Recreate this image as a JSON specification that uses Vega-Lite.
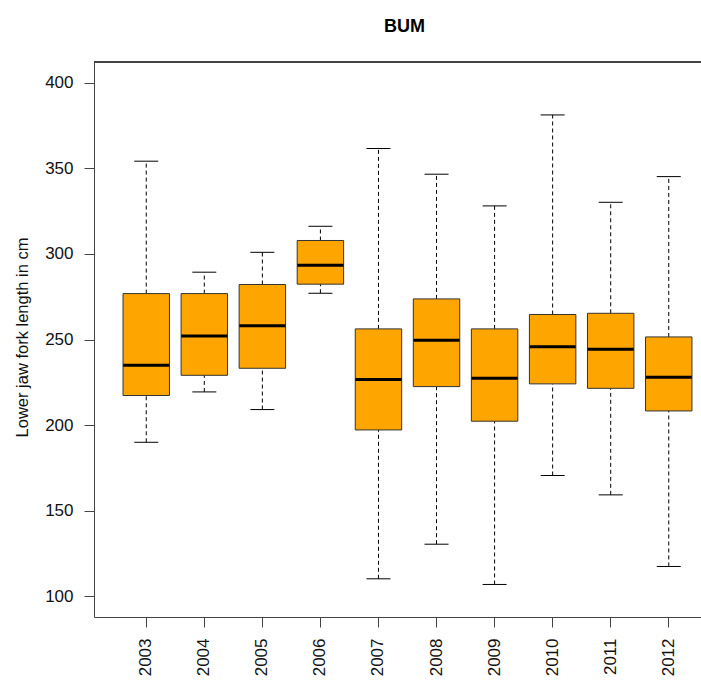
{
  "$schema": "https://vega.github.io/schema/vega-lite/v6.json",
  "autosize": "none",
  "width": 607,
  "height": 555,
  "padding": {"left": 94, "top": 62, "right": 0, "bottom": 64},
  "background": "white",
  "title": {"text": "BUM", "fontSize": 18, "fontWeight": "bold", "font": "Liberation Sans", "color": "#000", "anchor": "middle", "dx": 7, "baseline": "alphabetic", "offset": 12, "frame": "group"},
  "data": {"values": [
    {"year": "2003", "lo": 190.0, "q1": 217.3, "med": 235.0, "q3": 276.8, "hi": 354.1},
    {"year": "2004", "lo": 219.4, "q1": 229.1, "med": 252.1, "q3": 276.8, "hi": 289.3},
    {"year": "2005", "lo": 209.1, "q1": 233.2, "med": 258.1, "q3": 282.1, "hi": 300.9},
    {"year": "2006", "lo": 277.0, "q1": 282.3, "med": 293.4, "q3": 307.8, "hi": 316.1},
    {"year": "2007", "lo": 110.3, "q1": 197.2, "med": 226.6, "q3": 256.2, "hi": 361.5},
    {"year": "2008", "lo": 130.5, "q1": 222.5, "med": 249.6, "q3": 273.7, "hi": 346.5},
    {"year": "2009", "lo": 107.0, "q1": 202.3, "med": 227.4, "q3": 256.2, "hi": 328.0},
    {"year": "2010", "lo": 170.6, "q1": 224.1, "med": 245.7, "q3": 264.6, "hi": 381.1},
    {"year": "2011", "lo": 159.3, "q1": 221.5, "med": 244.3, "q3": 265.3, "hi": 330.1},
    {"year": "2012", "lo": 117.5, "q1": 208.3, "med": 228.0, "q3": 251.5, "hi": 345.1}
  ]},
  "layer": [
    {
      "mark": {"type": "rule", "color": "#000", "strokeWidth": 1, "strokeDash": [4, 3]},
      "encoding": {
        "x": {"field": "year", "type": "ordinal", "title": null,
          "scale": {"type": "band", "range": [0, 627], "paddingInner": 0.2, "paddingOuter": 0.5},
          "axis": {"labelAngle": 270, "labelAlign": "right", "labelBaseline": "middle", "tickSize": 10, "labelPadding": 11, "labelFontSize": 17, "labelColor": "#111", "labelFont": "Liberation Sans", "domainColor": "#444", "tickColor": "#444"}},
        "y": {"field": "lo", "type": "quantitative", "title": "Lower jaw fork length in cm",
          "scale": {"domain": [88, 412], "nice": false, "zero": false},
          "axis": {"values": [100, 150, 200, 250, 300, 350, 400], "tickSize": 10, "labelPadding": 11, "labelFontSize": 17, "labelColor": "#111", "labelFont": "Liberation Sans", "domainColor": "#444", "tickColor": "#444",
            "titleFontSize": 16.5, "titleFontWeight": "normal", "titleFont": "Liberation Sans", "titleColor": "#111", "titleAngle": -90, "titleX": -72, "titleY": 275, "titleAlign": "center", "titleBaseline": "middle", "grid": false}},
        "y2": {"field": "q1"}
      }
    },
    {
      "mark": {"type": "rule", "color": "#000", "strokeWidth": 1, "strokeDash": [4, 3]},
      "encoding": {
        "x": {"field": "year", "type": "ordinal"},
        "y": {"field": "q3", "type": "quantitative"},
        "y2": {"field": "hi"}
      }
    },
    {
      "mark": {"type": "tick", "color": "#000", "size": 24, "thickness": 1, "opacity": 1},
      "encoding": {
        "x": {"field": "year", "type": "ordinal"},
        "y": {"field": "lo", "type": "quantitative"}
      }
    },
    {
      "mark": {"type": "tick", "color": "#000", "size": 24, "thickness": 1, "opacity": 1},
      "encoding": {
        "x": {"field": "year", "type": "ordinal"},
        "y": {"field": "hi", "type": "quantitative"}
      }
    },
    {
      "mark": {"type": "bar", "fill": "#FFA500", "stroke": "#333", "strokeWidth": 1, "opacity": 1},
      "encoding": {
        "x": {"field": "year", "type": "ordinal"},
        "y": {"field": "q1", "type": "quantitative"},
        "y2": {"field": "q3"}
      }
    },
    {
      "mark": {"type": "tick", "color": "#000", "size": 46, "thickness": 3, "opacity": 1},
      "encoding": {
        "x": {"field": "year", "type": "ordinal"},
        "y": {"field": "med", "type": "quantitative"}
      }
    },
    {
      "mark": {"type": "rule", "color": "#444", "strokeWidth": 1},
      "encoding": {
        "y": {"datum": 412, "type": "quantitative"}
      }
    }
  ],
  "config": {
    "font": "Liberation Sans",
    "view": {"stroke": "transparent", "strokeWidth": 0},
    "axis": {"grid": false}
  }
}
